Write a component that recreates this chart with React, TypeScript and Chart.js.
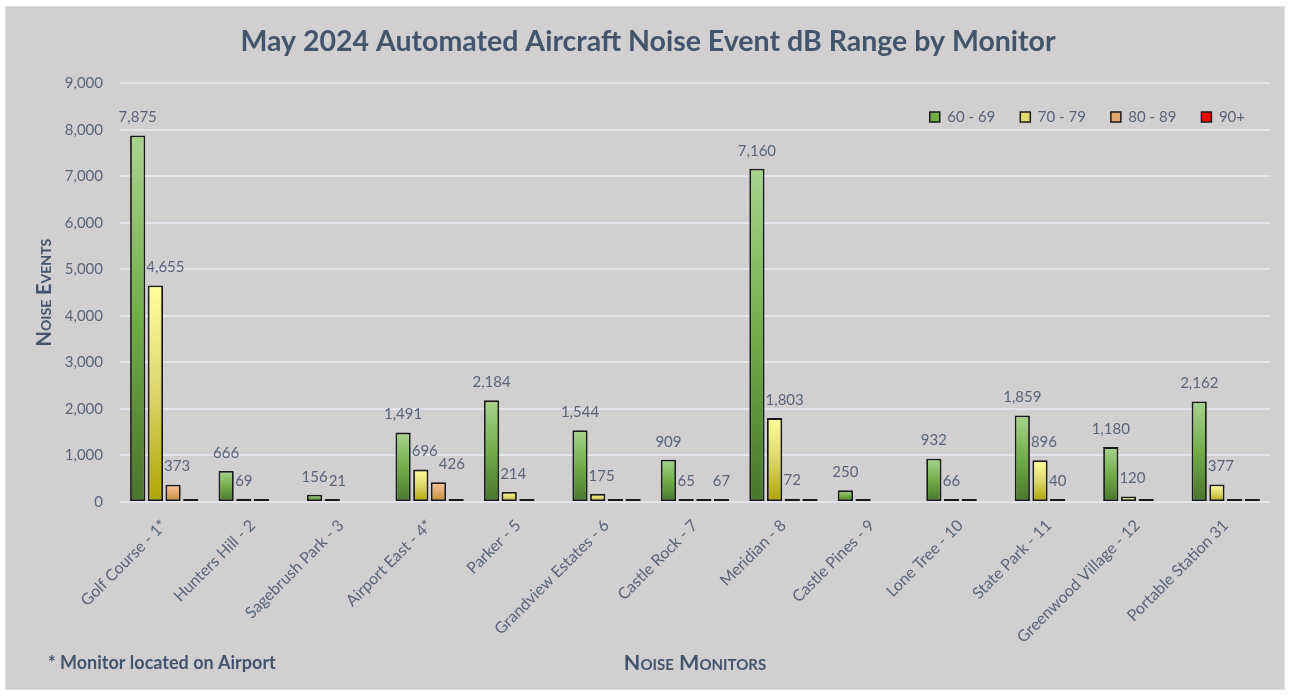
import React, { useEffect, useRef } from "react";
import { Chart, registerables } from "chart.js";

Chart.register(...registerables);

const categories = [
  "Golf Course - 1*",
  "Hunters Hill - 2",
  "Sagebrush Park - 3",
  "Airport East - 4*",
  "Parker - 5",
  "Grandview Estates - 6",
  "Castle Rock - 7",
  "Meridian - 8",
  "Castle Pines - 9",
  "Lone Tree - 10",
  "State Park - 11",
  "Greenwood Village - 12",
  "Portable Station 31",
];

const series60to69 = [7875, 666, 156, 1491, 2184, 1544, 909, 7160, 250, 932, 1859, 1180, 2162];
const series70to79 = [4655, 69, 21, 696, 214, 175, 65, 1803, 0, 66, 896, 120, 377];
const series80to89 = [373, 0, null, 426, 0, 0, 0, 72, null, 0, 40, 0, 0];
const series90plus = [0, null, null, 0, null, 0, 67, 0, null, null, null, null, 0];

const seriesNames = ["60 - 69", "70 - 79", "80 - 89", "90+"];
const legendColors = ["#70ad47", "#e2dc70", "#e0a86a", "#ff0000"];

const TITLE = "May 2024 Automated Aircraft Noise Event dB Range by Monitor";
const Y_TITLE = "Noise Events";
const X_TITLE = "Noise Monitors";
const FOOTNOTE = "* Monitor located on Airport";

const FONT = "Lato, 'Open Sans', sans-serif";
const TITLE_COLOR = "#44546a";
const TEXT_COLOR = "#596479";

function gradientFill(stops: [number, string][], flat: string) {
  return (ctx: any) => {
    const chart = ctx.chart;
    if (ctx.type !== "data" || !chart.chartArea || !chart.scales || !chart.scales.y) return flat;
    const v = ctx.raw;
    if (v == null) return flat;
    const y = chart.scales.y;
    const bottom = y.getPixelForValue(0);
    const top = y.getPixelForValue(v);
    if (bottom - top < 2.5) return "#5a5a5a";
    const g = chart.ctx.createLinearGradient(0, top, 0, bottom);
    stops.forEach(([o, c]) => g.addColorStop(o, c));
    return g;
  };
}

const valueLabels = {
  id: "valueLabels",
  afterDatasetsDraw(chart: any) {
    const ctx = chart.ctx;
    ctx.save();
    ctx.font = `15px ${FONT}`;
    ctx.fillStyle = TEXT_COLOR;
    ctx.textAlign = "center";
    ctx.textBaseline = "middle";
    const n = chart.data.labels.length;
    for (let i = 0; i < n; i++) {
      const bars: any[] = [];
      const boxes: any[] = [];
      chart.data.datasets.forEach((ds: any, di: number) => {
        const el = chart.getDatasetMeta(di).data[i];
        const v = ds.data[i];
        if (!el || v == null) return;
        const p = el.getProps(["x", "y", "width"], true);
        const text = Number(v).toLocaleString("en-US");
        if (v !== 0) {
          const w = ctx.measureText(text).width;
          let cx = p.x;
          const cy = p.y - 18;
          const t = cy - 7;
          const b = cy + 7;
          for (let k = 0; k < 3; k++) {
            bars.forEach((bb) => {
              if (bb.top < b && cx - w / 2 < bb.right + 1) cx = bb.right + 1 + w / 2;
            });
            boxes.forEach((lb) => {
              if (lb.t < b && lb.b > t && cx - w / 2 < lb.r + 1) cx = lb.r + 1 + w / 2;
            });
          }
          ctx.fillText(text, cx, cy);
          boxes.push({ t, b, r: cx + w / 2 });
        }
        bars.push({ top: p.y, right: p.x + p.width / 2 });
      });
    }
    ctx.restore();
  },
};

const footnote = {
  id: "footnote",
  afterDraw(chart: any) {
    const ctx = chart.ctx;
    ctx.save();
    ctx.font = `bold 18px ${FONT}`;
    ctx.fillStyle = TITLE_COLOR;
    ctx.textAlign = "left";
    ctx.textBaseline = "middle";
    ctx.fillText(FOOTNOTE, 48, 663);
    ctx.restore();
  },
};

const legendShift = {
  id: "legendShift",
  afterLayout(chart: any) {
    const lg = chart.legend;
    if (!lg) return;
    const d = 117 - (lg.top + 25 + 7.5);
    lg.top += d;
    lg.bottom += d;
  },
};

export default function App() {
  const ref = useRef<HTMLCanvasElement | null>(null);

  useEffect(() => {
    if (!ref.current) return;
    const common = {
      borderColor: "#1a1a1a",
      borderWidth: 1.8,
      borderSkipped: false,
      minBarLength: 3,
      categoryPercentage: 0.8,
      barPercentage: 0.86,
    };
    const chart = new Chart(ref.current, {
      type: "bar",
      data: {
        labels: categories,
        datasets: [
          {
            label: seriesNames[0],
            data: series60to69,
            backgroundColor: gradientFill(
              [[0, "#a9d38f"], [0.5, "#70ad47"], [1, "#4a742d"]],
              legendColors[0]
            ),
            ...common,
          },
          {
            label: seriesNames[1],
            data: series70to79,
            backgroundColor: gradientFill(
              [[0, "#ffff9c"], [0.5, "#dcd66a"], [1, "#ada500"]],
              legendColors[1]
            ),
            ...common,
          },
          {
            label: seriesNames[2],
            data: series80to89,
            backgroundColor: gradientFill(
              [[0, "#f8c79c"], [0.5, "#e0a86a"], [1, "#b98a30"]],
              legendColors[2]
            ),
            ...common,
          },
          {
            label: seriesNames[3],
            data: series90plus,
            backgroundColor: gradientFill([[0, "#ff0000"], [1, "#ff0000"]], legendColors[3]),
            ...common,
          },
        ] as any,
      },
      options: {
        responsive: false,
        animation: false,
        layout: { padding: { left: 26, right: 19, top: 0, bottom: 0 } },
        plugins: {
          title: {
            display: true,
            text: TITLE,
            color: TITLE_COLOR,
            font: { family: FONT, size: 28.5, weight: "bold" },
            padding: { top: 25, bottom: -26 },
          },
          legend: {
            display: true,
            position: "top",
            align: "end",
            labels: {
              boxWidth: 10,
              boxHeight: 10,
              padding: 25,
              color: TEXT_COLOR,
              font: { family: FONT, size: 15 },
              generateLabels(chart: any) {
                const items = (Chart.defaults as any).plugins.legend.labels.generateLabels(chart);
                items.forEach((it: any, i: number) => {
                  it.fillStyle = legendColors[i];
                  it.strokeStyle = "#1a1a1a";
                  it.lineWidth = 1.5;
                });
                return items;
              },
            },
          },
          tooltip: { enabled: false },
        },
        scales: {
          x: {
            grid: { display: false, drawTicks: false },
            border: { display: false },
            ticks: {
              color: TEXT_COLOR,
              font: { family: FONT, size: 16 },
              maxRotation: 45,
              minRotation: 45,
              autoSkip: false,
              padding: 14,
            },
            title: {
              display: true,
              text: X_TITLE,
              color: TITLE_COLOR,
              font: { family: FONT, size: 21.5, weight: "small-caps bold" as any },
              padding: { top: 0, bottom: 20 },
            },
            afterFit(scale: any) {
              scale.height = 194;
            },
          },
          y: {
            min: 0,
            max: 9000,
            grid: { color: "#e4e4ec", lineWidth: 2, drawTicks: false },
            border: { display: false },
            ticks: {
              stepSize: 1000,
              color: TEXT_COLOR,
              font: { family: FONT, size: 15 },
              padding: 17,
            },
            title: {
              display: true,
              text: Y_TITLE,
              color: TITLE_COLOR,
              font: { family: FONT, size: 20, weight: "small-caps bold" as any },
              padding: { top: 7, bottom: 0 },
            },
            afterFit(scale: any) {
              scale.width = 94;
            },
          },
        },
      } as any,
      plugins: [valueLabels, footnote, legendShift],
    });
    return () => chart.destroy();
  }, []);

  return (
    <div style={{ position: "absolute", left: 0, top: 0, width: 1289, height: 696, background: "#ffffff" }}>
      <div
        style={{
          position: "absolute",
          left: 5,
          top: 6,
          width: 1278,
          height: 682,
          background: "#d1cfd0",
          border: "1px solid #dcdce2",
        }}
      />
      <canvas ref={ref} width={1289} height={696} style={{ position: "absolute", left: 0, top: 0 }} />
    </div>
  );
}
